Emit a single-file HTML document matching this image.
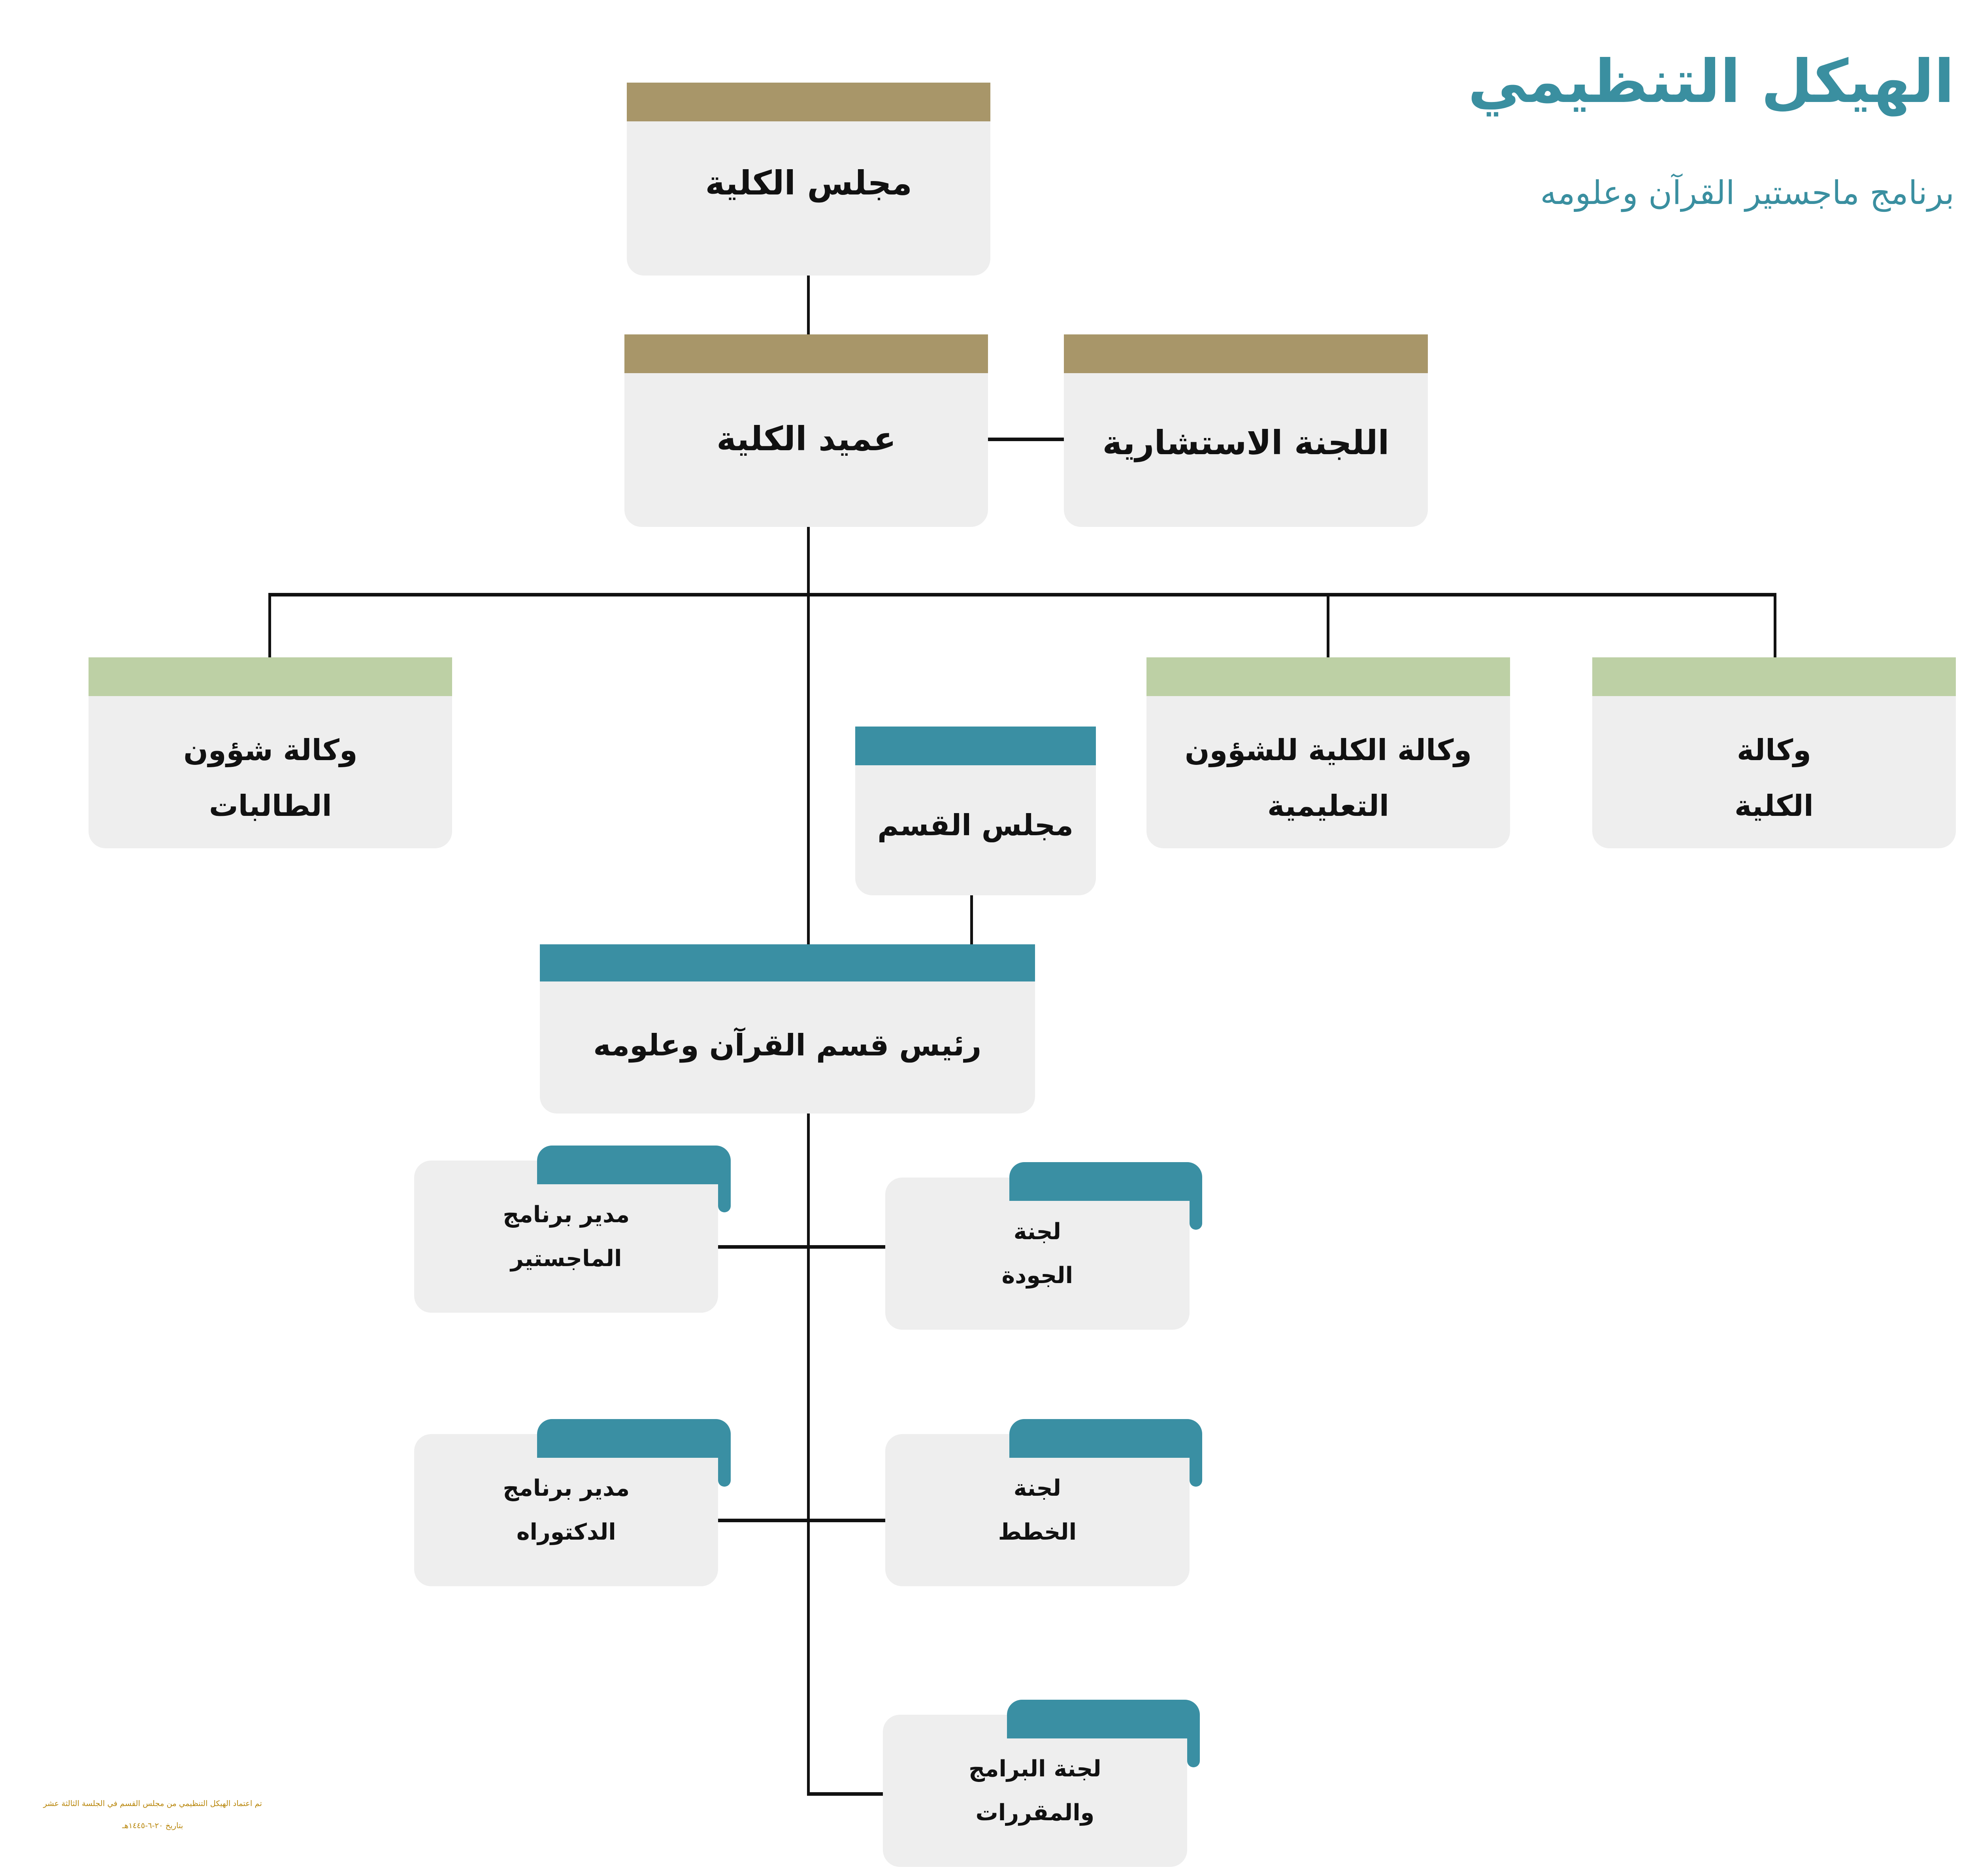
<!DOCTYPE html>
<html><head><meta charset="utf-8"><style>
html,body{margin:0;padding:0;background:#fff;width:100vw;height:100vh;overflow:hidden;}
body{position:relative;font-family:"DejaVu Sans",sans-serif;--x:calc(100vw / 6667);--y:calc(100vh / 4746);}
div{box-sizing:border-box;}
.b{position:absolute;background:#eeeeee;border-radius:0 0 calc(43*var(--y)) calc(43*var(--y));}
.bar{position:absolute;left:0;right:0;top:0;height:calc(98*var(--y));}
.t{position:absolute;left:0;right:0;text-align:center;direction:rtl;font-weight:bold;color:#111;white-space:nowrap;}
.l{position:absolute;background:#111;}
.tab{position:absolute;background:#3a8fa3;border-radius:calc(38*var(--y)) calc(38*var(--y)) 0 0;}
.tab2{position:absolute;background:#3a8fa3;border-radius:0 0 calc(26*var(--y)) calc(26*var(--y));}
.sb{position:absolute;background:#eeeeee;border-radius:calc(43*var(--y));}
.f1{font-size:calc(112*var(--x));}
.f2{font-size:calc(98*var(--x));line-height:calc(141*var(--y));}
.f3{font-size:calc(76*var(--x));line-height:calc(111*var(--y));}
</style></head><body>
<div style="position:absolute;right:calc(73*var(--x));top:calc(120*var(--y));font-size:calc(200*var(--x));font-weight:bold;color:#3a8fa0;direction:rtl;white-space:nowrap;">الهيكل التنظيمي</div>
<div style="position:absolute;right:calc(73*var(--x));top:calc(440*var(--y));font-size:calc(110*var(--x));color:#3a8fa0;direction:rtl;white-space:nowrap;">برنامج ماجستير القرآن وعلومه</div>

<div class="l" style="left:calc(2723*var(--x));top:calc(697*var(--y));width:calc(9*var(--x));height:calc(154*var(--y))"></div>
<div class="l" style="left:calc(3333*var(--x));top:calc(1107*var(--y));width:calc(256*var(--x));height:calc(9*var(--y))"></div>
<div class="l" style="left:calc(2723*var(--x));top:calc(1333*var(--y));width:calc(9*var(--x));height:calc(3210*var(--y))"></div>
<div class="l" style="left:calc(906*var(--x));top:calc(1500*var(--y));width:calc(5085*var(--x));height:calc(9*var(--y))"></div>
<div class="l" style="left:calc(906*var(--x));top:calc(1500*var(--y));width:calc(9*var(--x));height:calc(163*var(--y))"></div>
<div class="l" style="left:calc(4476*var(--x));top:calc(1500*var(--y));width:calc(9*var(--x));height:calc(163*var(--y))"></div>
<div class="l" style="left:calc(5984*var(--x));top:calc(1500*var(--y));width:calc(9*var(--x));height:calc(163*var(--y))"></div>
<div class="l" style="left:calc(3274*var(--x));top:calc(2265*var(--y));width:calc(9*var(--x));height:calc(128*var(--y))"></div>
<div class="l" style="left:calc(2423*var(--x));top:calc(3150*var(--y));width:calc(565*var(--x));height:calc(9*var(--y))"></div>
<div class="l" style="left:calc(2423*var(--x));top:calc(3842*var(--y));width:calc(565*var(--x));height:calc(9*var(--y))"></div>
<div class="l" style="left:calc(2723*var(--x));top:calc(4534*var(--y));width:calc(256*var(--x));height:calc(9*var(--y))"></div>

<div class="b" style="left:calc(2115*var(--x));top:calc(209*var(--y));width:calc(1227*var(--x));height:calc(488*var(--y))"><div class="bar" style="background:#a89669"></div><div class="t f1" style="top:calc(205*var(--y))">مجلس الكلية</div></div>
<div class="b" style="left:calc(2107*var(--x));top:calc(846*var(--y));width:calc(1227*var(--x));height:calc(487*var(--y))"><div class="bar" style="background:#a89669"></div><div class="t f1" style="top:calc(215*var(--y))">عميد الكلية</div></div>
<div class="b" style="left:calc(3590*var(--x));top:calc(846*var(--y));width:calc(1227*var(--x));height:calc(487*var(--y))"><div class="bar" style="background:#a89669"></div><div class="t f1" style="top:calc(225*var(--y))">اللجنة الاستشارية</div></div>

<div class="b" style="left:calc(299*var(--x));top:calc(1663*var(--y));width:calc(1227*var(--x));height:calc(483*var(--y))"><div class="bar" style="background:#bdd0a5"></div><div class="t f2" style="top:calc(165*var(--y))">وكالة شؤون<br>الطالبات</div></div>
<div class="b" style="left:calc(3868*var(--x));top:calc(1663*var(--y));width:calc(1227*var(--x));height:calc(483*var(--y))"><div class="bar" style="background:#bdd0a5"></div><div class="t f2" style="top:calc(165*var(--y))">وكالة الكلية للشؤون<br>التعليمية</div></div>
<div class="b" style="left:calc(5372*var(--x));top:calc(1663*var(--y));width:calc(1227*var(--x));height:calc(483*var(--y))"><div class="bar" style="background:#bdd0a5"></div><div class="t f2" style="top:calc(165*var(--y))">وكالة<br>الكلية</div></div>

<div class="b" style="left:calc(2885*var(--x));top:calc(1838*var(--y));width:calc(812*var(--x));height:calc(427*var(--y))"><div class="bar" style="background:#3a8fa3"></div><div class="t f2" style="top:calc(180*var(--y))">مجلس القسم</div></div>
<div class="b" style="left:calc(1821*var(--x));top:calc(2389*var(--y));width:calc(1671*var(--x));height:calc(428*var(--y))"><div class="bar" style="background:#3a8fa3;height:calc(94*var(--y))"></div><div class="t f2" style="top:calc(185*var(--y));font-size:calc(100*var(--x))">رئيس قسم القرآن وعلومه</div></div>

<div class="sb" style="left:calc(1398*var(--x));top:calc(2936*var(--y));width:calc(1025*var(--x));height:calc(385*var(--y))"><div class="t f3" style="top:calc(82*var(--y))">مدير برنامج<br>الماجستير</div></div>
<div class="tab" style="left:calc(1812*var(--x));top:calc(2898*var(--y));width:calc(654*var(--x));height:calc(98*var(--y))"></div><div class="tab2" style="left:calc(2423*var(--x));top:calc(2990*var(--y));width:calc(43*var(--x));height:calc(77*var(--y))"></div>

<div class="sb" style="left:calc(2987*var(--x));top:calc(2979*var(--y));width:calc(1026*var(--x));height:calc(385*var(--y))"><div class="t f3" style="top:calc(82*var(--y))">لجنة<br>الجودة</div></div>
<div class="tab" style="left:calc(3406*var(--x));top:calc(2940*var(--y));width:calc(650*var(--x));height:calc(98*var(--y))"></div><div class="tab2" style="left:calc(4013*var(--x));top:calc(3034*var(--y));width:calc(43*var(--x));height:calc(77*var(--y))"></div>

<div class="sb" style="left:calc(1398*var(--x));top:calc(3628*var(--y));width:calc(1025*var(--x));height:calc(385*var(--y))"><div class="t f3" style="top:calc(82*var(--y))">مدير برنامج<br>الدكتوراه</div></div>
<div class="tab" style="left:calc(1812*var(--x));top:calc(3590*var(--y));width:calc(654*var(--x));height:calc(98*var(--y))"></div><div class="tab2" style="left:calc(2423*var(--x));top:calc(3684*var(--y));width:calc(43*var(--x));height:calc(77*var(--y))"></div>

<div class="sb" style="left:calc(2987*var(--x));top:calc(3628*var(--y));width:calc(1026*var(--x));height:calc(385*var(--y))"><div class="t f3" style="top:calc(82*var(--y))">لجنة<br>الخطط</div></div>
<div class="tab" style="left:calc(3406*var(--x));top:calc(3590*var(--y));width:calc(650*var(--x));height:calc(98*var(--y))"></div><div class="tab2" style="left:calc(4013*var(--x));top:calc(3684*var(--y));width:calc(43*var(--x));height:calc(77*var(--y))"></div>

<div class="sb" style="left:calc(2979*var(--x));top:calc(4338*var(--y));width:calc(1026*var(--x));height:calc(385*var(--y))"><div class="t f3" style="top:calc(82*var(--y))">لجنة البرامج<br>والمقررات</div></div>
<div class="tab" style="left:calc(3398*var(--x));top:calc(4300*var(--y));width:calc(650*var(--x));height:calc(98*var(--y))"></div><div class="tab2" style="left:calc(4005*var(--x));top:calc(4394*var(--y));width:calc(43*var(--x));height:calc(77*var(--y))"></div>

<div style="position:absolute;left:calc(30*var(--x));top:calc(4535*var(--y));width:calc(970*var(--x));text-align:center;direction:rtl;font-size:calc(26*var(--x));line-height:calc(56*var(--y));color:#b8860b;white-space:nowrap;">تم اعتماد الهيكل التنظيمي من مجلس القسم في الجلسة الثالثة عشر<br>بتاريخ ٢٠-٦-١٤٤٥هـ</div>
</body></html>
